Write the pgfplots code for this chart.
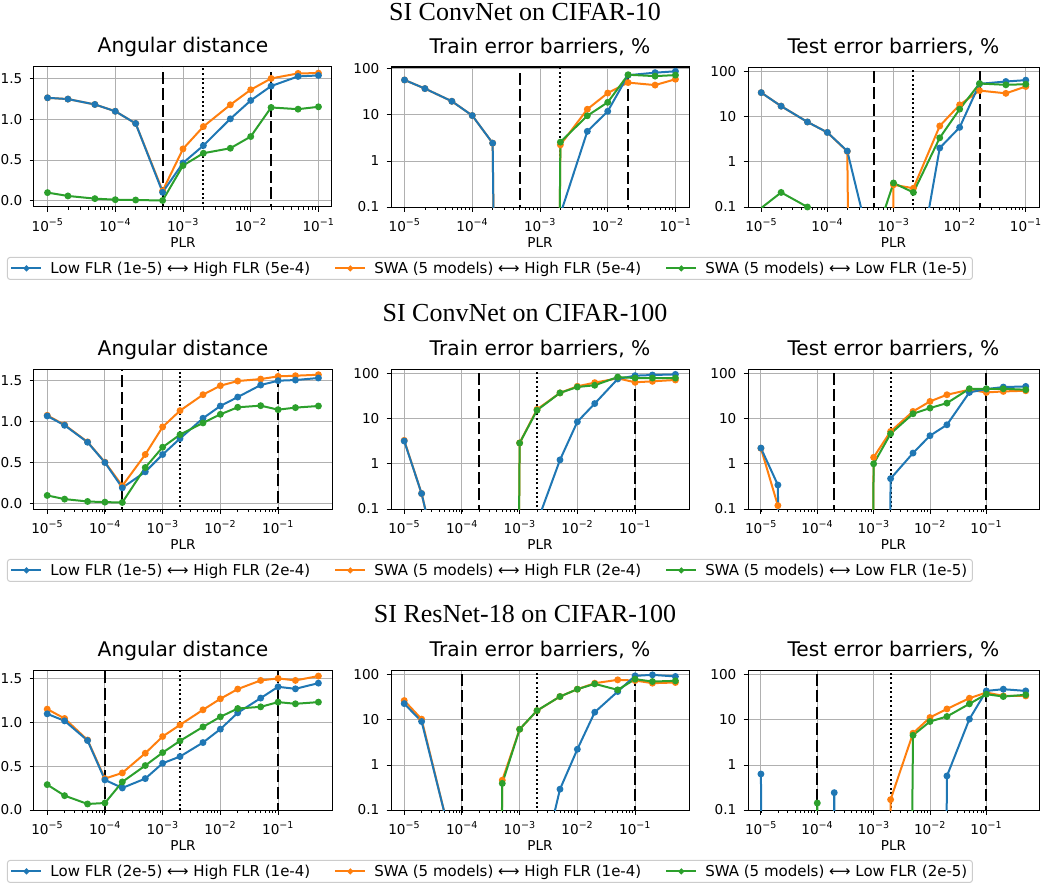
\documentclass[border=0pt]{standalone}
\usepackage{fontspec}
\setmainfont{DejaVu Sans}
\newfontfamily\timesfont{Liberation Serif}
\usepackage{pgfplots}
\usepackage{pgfplotstable}
\pgfplotsset{compat=1.18}

\definecolor{cblue}{RGB}{31,119,180}
\definecolor{corange}{RGB}{255,127,14}
\definecolor{cgreen}{RGB}{44,160,44}
\definecolor{gridc}{RGB}{176,176,176}
\definecolor{legc}{RGB}{204,204,204}

\newcommand{\tp}[1]{10\textsuperscript{−#1}}

\pgfplotstableread{
x     b      o      g
1e-5  1.266  1.266  0.099
2e-5  1.250  1.250  0.058
5e-5  1.184  1.184  0.025
1e-4  1.100  1.100  0.012
2e-4  0.950  0.950  0.008
5e-4  0.103  0.120  0.002
1e-3  0.464  0.637  0.432
2e-3  0.678  0.912  0.584
5e-3  1.007  1.180  0.645
1e-2  1.233  1.365  0.789
2e-2  1.410  1.504  1.147
5e-2  1.529  1.566  1.126
1e-1  1.541  1.570  1.155
}\tAa
\pgfplotstableread{
x     b      o      g
1e-5  57.5   57.5   1e-50
2e-5  37.4   37.4   1e-50
5e-5  19.8   19.8   1e-50
1e-4  9.7    9.7    1e-50
2e-4  2.44   2.44   1e-50
5e-4  1e-50  1e-50  1e-50
1e-3  1e-50  1e-50  1e-50
2e-3  0.07   2.24   2.57
5e-3  4.4    13.3   9.6
1e-2  12.0   29.9   18.8
2e-2  73     50.4   74.7
5e-2  82.8   44.5   69.7
1e-1  88.8   59.7   73.4
}\tAb
\pgfplotstableread{
x     b      o      g
1e-5  33.9   33.9   0.095
2e-5  17.0   17.0   0.21
5e-5  7.6    7.6    0.10
1e-4  4.46   4.46   0.02
2e-4  1.73   1.70   0.01
5e-4  0.007  1e-50  0.016
1e-3  1e-50  0.31   0.34
2e-3  0.001  0.26   0.21
5e-3  2.02   6.2    3.39
1e-2  5.77   18.2   14.6
2e-2  53     37.6   53.9
5e-2  59.7   32.7   50.4
1e-1  64     46.2   52
}\tAc
\pgfplotstableread{
x     b      o      g
1e-5  1.069  1.077  0.098
2e-5  0.955  0.960  0.053
5e-5  0.748  0.752  0.024
1e-4  0.500  0.504  0.016
2e-4  0.191  0.215  0.012
5e-4  0.386  0.598  0.439
1e-3  0.598  0.935  0.687
2e-3  0.793  1.134  0.841
5e-3  1.041  1.329  0.984
1e-2  1.191  1.439  1.089
2e-2  1.300  1.496  1.175
5e-2  1.447  1.520  1.195
1e-1  1.500  1.553  1.146
2e-1  1.508  1.561  1.171
5e-1  1.533  1.573  1.191
}\tBa
\pgfplotstableread{
x     b      o      g
1e-5  3.19   3.3    1e-50
2e-5  0.22   0.22   1e-50
5e-5  0.0015 0.0015 1e-50
1e-4  1e-50  1e-50  1e-50
2e-4  1e-50  1e-50  1e-50
5e-4  1e-50  1e-50  1e-50
1e-3  1e-50  2.9    2.88
2e-3  0.05   16     15.3
5e-3  1.22   37     37
1e-2  8.5    51.8   50
2e-2  21.5   62.4   54.6
5e-2  75.2   77.7   83
1e-1  89     63.5   79
2e-1  92     66.8   79
5e-1  95     71.5   79
}\tBb
\pgfplotstableread{
x     b      o      g
1e-5  2.23   2.2    1e-50
2e-5  0.34   0.119  1e-50
5e-5  1e-50  1e-50  1e-50
1e-4  1e-50  1e-50  1e-50
2e-4  1e-50  1e-50  1e-50
5e-4  1e-50  1e-50  1e-50
1e-3  1e-50  1.39   1.0
2e-3  0.47   5.2    4.63
5e-3  1.73   14.4   12.8
1e-2  4.18   24     17.1
2e-2  7.3    33.7   22
5e-2  37.9   43.5   45.7
1e-1  45     37.9   45.7
2e-1  49.8   39.9   45.7
5e-1  51.5   41.3   43.5
}\tBc
\pgfplotstableread{
x     b      o      g
1e-5  1.099  1.153  0.290
2e-5  1.019  1.046  0.164
5e-5  0.794  0.800  0.069
1e-4  0.344  0.359  0.080
2e-4  0.252  0.424  0.321
5e-4  0.359  0.649  0.508
1e-3  0.534  0.840  0.656
2e-3  0.611  0.973  0.790
5e-3  0.771  1.145  0.950
1e-2  0.924  1.271  1.065
2e-2  1.111  1.382  1.160
5e-2  1.279  1.481  1.179
1e-1  1.408  1.504  1.233
2e-1  1.385  1.481  1.214
5e-1  1.450  1.531  1.233
}\tCa
\pgfplotstableread{
x     b      o      g
1e-5  23     26.9   1e-50
2e-5  9.2    10.4   1e-50
5e-5  0.085  0.085  1e-50
1e-4  1e-50  1e-50  1e-50
2e-4  1e-50  1e-50  1e-50
5e-4  1e-50  0.46   0.39
1e-3  1e-50  6.2    6.2
2e-3  0.002  16     16.1
5e-3  0.29   33     33
1e-2  2.23   48     48
2e-2  14.8   65.3   63
5e-2  42.6   77.4   46.4
1e-1  95     74.8   80.2
2e-1  100    65.3   71
5e-1  92     67.6   73.6
}\tCb
\pgfplotstableread{
x     b      o      g
1e-5  0.63   1e-50  1e-50
2e-5  1e-50  1e-50  1e-50
5e-5  1e-50  1e-50  1e-50
1e-4  1e-50  1e-50  0.143
2e-4  0.243  1e-50  1e-50
5e-4  1e-50  1e-50  1e-50
1e-3  1e-50  1e-50  1e-50
2e-3  1e-50  0.17   1e-50
5e-3  1e-50  5.06   4.56
1e-2  1e-50  11.3   9.2
2e-2  0.57   17.5   11.9
5e-2  10.4   30.3   22.7
1e-1  44     40.5   37.2
2e-1  48     34.1   33
5e-1  44     34     36
}\tCc

\pgfplotsset{
  every axis/.append style={
    scale only axis, height=140pt,
    axis line style={line width=1pt},
    grid=major, major grid style={line width=0.9pt, gridc},
    tick align=outside, xtick pos=left, ytick pos=left,
    major tick length=4.5pt, minor tick length=2.6pt,
    tick style={black, line width=0.9pt},
    minor tick style={black, line width=0.7pt},
    tick label style={font=\fontsize{13.6}{16}\selectfont},
    xticklabel style={anchor=base, inner sep=0pt, yshift=-19.5pt},
    yticklabel style={anchor=east, inner sep=0pt, xshift=-7pt},
    title style={font=\fontsize{20.2}{24}\selectfont, at={(0.5,1)}, anchor=base, inner sep=0pt, yshift=8pt},
    xlabel style={font=\fontsize{13.6}{16}\selectfont, at={(0.5,0)}, anchor=base, inner sep=0pt, yshift=-40pt},
  },
}

\newcommand{\threeplots}[1]{%
  \addplot[corange, line width=2pt, mark=*, mark size=2.4pt, mark options={draw=none, fill=corange}, forget plot] table[x=x,y=o] {#1};
  \addplot[cblue, line width=2pt, mark=*, mark size=2.4pt, mark options={draw=none, fill=cblue}, forget plot] table[x=x,y=b] {#1};
  \addplot[cgreen, line width=2pt, mark=*, mark size=2.4pt, mark options={draw=none, fill=cgreen}, forget plot] table[x=x,y=g] {#1};
}
\newcommand{\vlines}[5]{%
  \addplot[black, line width=2pt, dash pattern=on 12pt off 4.5pt, forget plot] coordinates {(#1,#4) (#1,#5)};
  \addplot[black, line width=2pt, dash pattern=on 12pt off 4.5pt, forget plot] coordinates {(#2,#4) (#2,#5)};
  \addplot[black, line width=2pt, dash pattern=on 2pt off 2.6pt, forget plot] coordinates {(#3,#4) (#3,#5)};
}
\newcommand{\legendA}[2]{%
  \addlegendimage{cblue, line width=2pt, mark=*, mark size=1.8pt, mark options={draw=none, fill=cblue}}
  \addlegendentry{Low FLR (#1) ⟷ High FLR (#2)}
  \addlegendimage{corange, line width=2pt, mark=*, mark size=1.8pt, mark options={draw=none, fill=corange}}
  \addlegendentry{SWA (5 models) ⟷ High FLR (#2)}
  \addlegendimage{cgreen, line width=2pt, mark=*, mark size=1.8pt, mark options={draw=none, fill=cgreen}}
  \addlegendentry{SWA (5 models) ⟷ Low FLR (#1)}
}

\begin{document}
\begin{tikzpicture}
\path[use as bounding box] (0pt,0pt) rectangle (1048pt,-888pt);

% ================= Row 1 =================
\node[anchor=base, font=\timesfont\fontsize{26}{30}\selectfont] at (525pt,-20.5pt) {SI ConvNet on CIFAR-10};

\begin{axis}[xmode=log, at={(34pt,-67pt)}, anchor=north west, width=298pt,
  xmin=6.31e-6, xmax=0.1585, ymin=-0.078, ymax=1.645,
  xtick={1e-5,1e-4,1e-3,1e-2,1e-1}, xticklabels={\tp{5},\tp{4},\tp{3},\tp{2},\tp{1}},
  ytick={0,0.5,1,1.5}, yticklabels={0.0,0.5,1.0,1.5},
  title={Angular distance}, xlabel={PLR},
  legend columns=3,
  legend image code/.code={\draw[mark repeat=2,mark phase=2] plot coordinates {(0pt,0pt) (15pt,0pt) (30pt,0pt)};},
  legend style={at={(-0.0906,-0.357)}, anchor=north west, draw=legc, line width=1pt,
    rounded corners=2.5pt, fill=white, font=\fontsize{15}{18}\selectfont,
    inner xsep=3pt, inner ysep=2.5pt, nodes={inner sep=2pt},
    /tikz/every even column/.append style={column sep=22pt},
    /tikz/every odd column/.append style={column sep=6pt}}]
\legendA{1e-5}{5e-4}
\vlines{5e-4}{2e-2}{2e-3}{-1}{3}
\threeplots{\tAa}
\end{axis}

\begin{axis}[xmode=log, ymode=log, at={(391pt,-67pt)}, anchor=north west, width=298pt,
  xmin=6.31e-6, xmax=0.1585, ymin=0.1, ymax=110,
  xtick={1e-5,1e-4,1e-3,1e-2,1e-1}, xticklabels={\tp{5},\tp{4},\tp{3},\tp{2},\tp{1}},
  ytick={0.1,1,10,100}, yticklabels={0.1,1,10,100}, yminorticks=false,
  title={Train error barriers, \%}, xlabel={PLR}]
\vlines{5e-4}{2e-2}{2e-3}{1e-3}{1e4}
\threeplots{\tAb}
\end{axis}

\begin{axis}[xmode=log, ymode=log, at={(748pt,-67pt)}, anchor=north west, width=291pt,
  xmin=6.31e-6, xmax=0.1585, ymin=0.1, ymax=125,
  xtick={1e-5,1e-4,1e-3,1e-2,1e-1}, xticklabels={\tp{5},\tp{4},\tp{3},\tp{2},\tp{1}},
  ytick={0.1,1,10,100}, yticklabels={0.1,1,10,100}, yminorticks=false,
  title={Test error barriers, \%}, xlabel={PLR}]
\vlines{5e-4}{2e-2}{2e-3}{1e-3}{1e4}
\threeplots{\tAc}
\end{axis}

% ================= Row 2 =================
\node[anchor=base, font=\timesfont\fontsize{26}{30}\selectfont] at (525pt,-321.5pt) {SI ConvNet on CIFAR-100};

\begin{axis}[xmode=log, at={(34pt,-369pt)}, anchor=north west, width=298pt,
  xmin=5.9e-6, xmax=0.86, ymin=-0.068, ymax=1.643,
  xtick={1e-5,1e-4,1e-3,1e-2,1e-1}, xticklabels={\tp{5},\tp{4},\tp{3},\tp{2},\tp{1}},
  ytick={0,0.5,1,1.5}, yticklabels={0.0,0.5,1.0,1.5},
  title={Angular distance}, xlabel={PLR},
  legend columns=3,
  legend image code/.code={\draw[mark repeat=2,mark phase=2] plot coordinates {(0pt,0pt) (15pt,0pt) (30pt,0pt)};},
  legend style={at={(-0.0906,-0.357)}, anchor=north west, draw=legc, line width=1pt,
    rounded corners=2.5pt, fill=white, font=\fontsize{15}{18}\selectfont,
    inner xsep=3pt, inner ysep=2.5pt, nodes={inner sep=2pt},
    /tikz/every even column/.append style={column sep=22pt},
    /tikz/every odd column/.append style={column sep=6pt}}]
\legendA{1e-5}{2e-4}
\vlines{2e-4}{1e-1}{2e-3}{-1}{3}
\threeplots{\tBa}
\end{axis}

\begin{axis}[xmode=log, ymode=log, at={(391pt,-369pt)}, anchor=north west, width=298pt,
  xmin=5.9e-6, xmax=0.86, ymin=0.1, ymax=125,
  xtick={1e-5,1e-4,1e-3,1e-2,1e-1}, xticklabels={\tp{5},\tp{4},\tp{3},\tp{2},\tp{1}},
  ytick={0.1,1,10,100}, yticklabels={0.1,1,10,100}, yminorticks=false,
  title={Train error barriers, \%}, xlabel={PLR}]
\vlines{2e-4}{1e-1}{2e-3}{1e-3}{1e4}
\threeplots{\tBb}
\end{axis}

\begin{axis}[xmode=log, ymode=log, at={(748pt,-369pt)}, anchor=north west, width=291pt,
  xmin=5.9e-6, xmax=0.86, ymin=0.1, ymax=125,
  xtick={1e-5,1e-4,1e-3,1e-2,1e-1}, xticklabels={\tp{5},\tp{4},\tp{3},\tp{2},\tp{1}},
  ytick={0.1,1,10,100}, yticklabels={0.1,1,10,100}, yminorticks=false,
  title={Test error barriers, \%}, xlabel={PLR}]
\vlines{2e-4}{1e-1}{2e-3}{1e-3}{1e4}
\threeplots{\tBc}
\end{axis}

% ================= Row 3 =================
\node[anchor=base, font=\timesfont\fontsize{26}{30}\selectfont] at (525pt,-622.5pt) {SI ResNet-18 on CIFAR-100};

\begin{axis}[xmode=log, at={(34pt,-670pt)}, anchor=north west, width=298pt,
  xmin=5.9e-6, xmax=0.86, ymin=0, ymax=1.6,
  xtick={1e-5,1e-4,1e-3,1e-2,1e-1}, xticklabels={\tp{5},\tp{4},\tp{3},\tp{2},\tp{1}},
  ytick={0,0.5,1,1.5}, yticklabels={0.0,0.5,1.0,1.5},
  title={Angular distance}, xlabel={PLR},
  legend columns=3,
  legend image code/.code={\draw[mark repeat=2,mark phase=2] plot coordinates {(0pt,0pt) (15pt,0pt) (30pt,0pt)};},
  legend style={at={(-0.0906,-0.357)}, anchor=north west, draw=legc, line width=1pt,
    rounded corners=2.5pt, fill=white, font=\fontsize{15}{18}\selectfont,
    inner xsep=3pt, inner ysep=2.5pt, nodes={inner sep=2pt},
    /tikz/every even column/.append style={column sep=22pt},
    /tikz/every odd column/.append style={column sep=6pt}}]
\legendA{2e-5}{1e-4}
\vlines{1e-4}{1e-1}{2e-3}{-1}{3}
\threeplots{\tCa}
\end{axis}

\begin{axis}[xmode=log, ymode=log, at={(391pt,-670pt)}, anchor=north west, width=298pt,
  xmin=5.9e-6, xmax=0.86, ymin=0.1, ymax=128,
  xtick={1e-5,1e-4,1e-3,1e-2,1e-1}, xticklabels={\tp{5},\tp{4},\tp{3},\tp{2},\tp{1}},
  ytick={0.1,1,10,100}, yticklabels={0.1,1,10,100}, yminorticks=false,
  title={Train error barriers, \%}, xlabel={PLR}]
\vlines{1e-4}{1e-1}{2e-3}{1e-3}{1e4}
\threeplots{\tCb}
\end{axis}

\begin{axis}[xmode=log, ymode=log, at={(748pt,-670pt)}, anchor=north west, width=291pt,
  xmin=5.9e-6, xmax=0.86, ymin=0.1, ymax=128,
  xtick={1e-5,1e-4,1e-3,1e-2,1e-1}, xticklabels={\tp{5},\tp{4},\tp{3},\tp{2},\tp{1}},
  ytick={0.1,1,10,100}, yticklabels={0.1,1,10,100}, yminorticks=false,
  title={Test error barriers, \%}, xlabel={PLR}]
\vlines{1e-4}{1e-1}{2e-3}{1e-3}{1e4}
\threeplots{\tCc}
\end{axis}

\end{tikzpicture}
\end{document}
